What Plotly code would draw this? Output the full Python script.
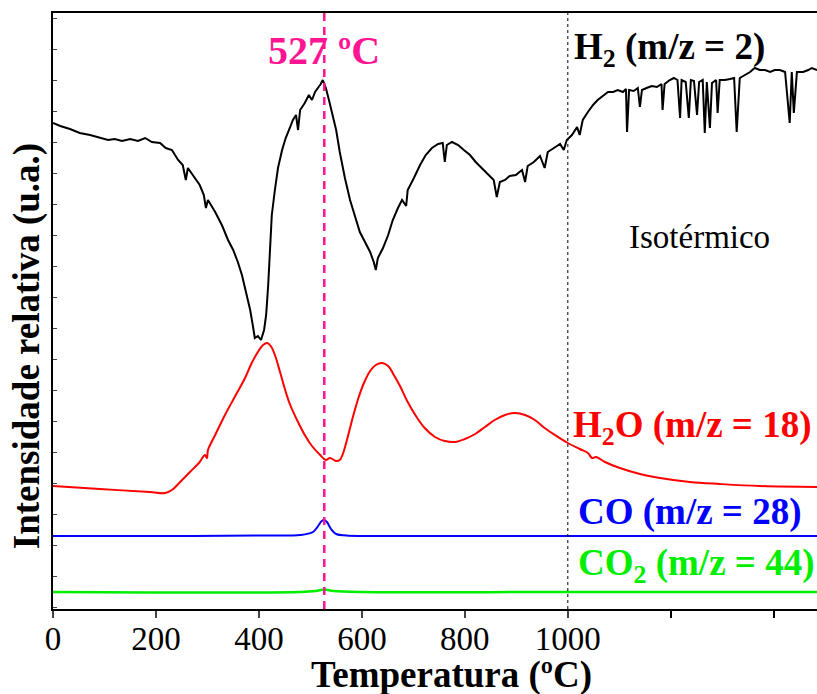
import plotly.graph_objects as go

# ---------------- data ----------------
h2_temp = [0, 14, 33, 52, 72, 91, 107, 120, 134, 150, 165, 179, 192, 208, 219, 231, 243, 252, 258, 262,
           276, 285, 293, 297, 301, 315, 328, 340, 350, 359, 367, 375, 383, 388, 392, 398, 404, 410, 414, 418,
           421, 425, 431, 437, 445, 452, 460, 466, 472, 476, 480, 489, 497, 503, 509, 515, 520, 524, 530, 536,
           542, 550, 557, 567, 577, 587, 596, 606, 616, 623, 627, 631, 641, 651, 660, 670, 678, 686, 689, 701,
           713, 724, 736, 748, 757, 761, 765, 775, 787, 798, 810, 821, 833, 845, 856, 862, 868, 878, 887, 899,
           911, 917, 922, 934, 946, 955, 961, 973, 985, 992, 998, 1008, 1018, 1023, 1029, 1039, 1049, 1058, 1068, 1078,
           1088, 1097, 1107, 1113, 1115, 1119, 1128, 1136, 1140, 1144, 1153, 1163, 1173, 1182, 1184, 1188, 1198, 1206, 1213, 1218,
           1221, 1229, 1235, 1239, 1245, 1251, 1255, 1262, 1266, 1270, 1276, 1280, 1288, 1291, 1295, 1305, 1315, 1323, 1328, 1334,
           1344, 1354, 1363, 1373, 1383, 1393, 1402, 1412, 1422, 1431, 1435, 1439, 1445, 1457, 1467, 1474, 1484]
h2_val = [486, 483, 480, 476, 474, 471, 469, 470, 468, 470, 468, 471, 467, 466, 461, 459, 449, 444, 429, 441,
          431, 424, 414, 401, 409, 397, 384, 369, 359, 347, 334, 317, 299, 284, 271, 273, 269, 279, 294, 324,
          359, 394, 419, 441, 459, 471, 481, 489, 494, 479, 499, 506, 514, 509, 517, 521, 525, 529, 521, 509,
          497, 479, 457, 431, 409, 391, 377, 367, 357, 347, 339, 351, 361, 374, 389, 401, 409, 403, 419, 431,
          444, 454, 461, 465, 466, 447, 464, 467, 464, 459, 454, 447, 441, 434, 429, 412, 427, 429, 433, 434,
          439, 427, 443, 447, 453, 441, 457, 461, 465, 459, 469, 474, 482, 474, 489, 497, 504, 509, 513, 517,
          517, 519, 517, 520, 477, 519, 518, 521, 502, 519, 521, 523, 522, 525, 499, 525, 529, 531, 529, 491,
          529, 527, 491, 529, 528, 494, 527, 529, 476, 527, 481, 526, 529, 496, 529, 529, 530, 531, 477, 531,
          534, 537, 541, 539, 539, 537, 539, 539, 537, 486, 537, 496, 537, 537, 539, 541, 539]

h2o_temp = [0, 91, 188, 218, 231, 247, 266, 285, 295, 299, 301, 315, 334, 353, 373, 386, 398, 408, 416, 423,
            431, 441, 451, 460, 474, 489, 503, 519, 530, 538, 550, 557, 563, 571, 581, 592, 604, 616, 627, 639,
            651, 662, 674, 689, 705, 722, 742, 761, 781, 800, 820, 839, 858, 878, 897, 917, 936, 955, 975, 1000,
            1023, 1039, 1047, 1055, 1072, 1101, 1140, 1179, 1237, 1295, 1373, 1484]
h2o_val = [123, 120, 117, 116, 119, 127, 137, 147, 154, 151, 159, 174, 194, 212, 231, 246, 257, 264, 266, 263,
           254, 237, 219, 205, 189, 174, 163, 154, 149, 151, 148, 149, 155, 169, 189, 209, 226, 238, 244, 246,
           243, 234, 223, 207, 193, 181, 172, 168, 167, 170, 175, 182, 189, 194, 196, 194, 189, 181, 174, 166,
           160, 156, 151, 152, 147, 141, 135, 131, 127, 125, 123, 122]

co_temp = [0, 200, 400, 480, 505, 515, 522, 527, 532, 540, 550, 570, 700, 1000, 1484]
co_val = [73, 73, 73.5, 74, 77, 83, 88, 89, 87, 80, 75, 73.5, 73, 73, 73]

co2_temp = [0, 480, 510, 527, 545, 600, 1000, 1484]
co2_val = [17, 17, 18, 19.5, 18, 17, 17, 17]

x_tickvals = [0, 200, 400, 600, 800, 1000]
x_ticktext = ["0", "200", "400", "600", "800", "1000"]
x_minor_tickvals = [1200, 1400]

peak_temp = 527
iso_temp = 1000

FONT = "Liberation Serif, Times New Roman, serif"
PINK = "#FF1493"

fig = go.Figure()
fig.add_trace(go.Scatter(x=h2_temp, y=h2_val, mode="lines", line=dict(color="black", width=2)))
fig.add_trace(go.Scatter(x=h2o_temp, y=h2o_val, mode="lines", line=dict(color="#FF0000", width=2), line_shape="spline"))
fig.add_trace(go.Scatter(x=co_temp, y=co_val, mode="lines", line=dict(color="#0000FF", width=2), line_shape="spline"))
fig.add_trace(go.Scatter(x=co2_temp, y=co2_val, mode="lines", line=dict(color="#00EE00", width=2.5), line_shape="spline"))

fig.add_shape(type="line", x0=peak_temp, x1=peak_temp, y0=0, y1=1, yref="paper", xref="x",
              line=dict(color=PINK, width=2.5, dash="8px,6px"))
fig.add_shape(type="line", x0=iso_temp, x1=iso_temp, y0=0, y1=1, yref="paper", xref="x",
              line=dict(color="black", width=1, dash="dot"))

ann = [
    dict(x=peak_temp, y=559, text="<b>527 ºC</b>", xanchor="center", yanchor="middle",
         font=dict(size=40, color=PINK)),
    dict(x=1008, y=560, text="<b>H<sub>2</sub> (m/z = 2)</b>", xanchor="left", yanchor="middle",
         font=dict(size=37, color="black")),
    dict(x=1255, y=372, text="Isotérmico", xanchor="center", yanchor="middle",
         font=dict(size=33, color="black")),
    dict(x=1006, y=182, text="<b>H<sub>2</sub>O (m/z = 18)</b>", xanchor="left", yanchor="middle",
         font=dict(size=37, color="#FF0000")),
    dict(x=1016, y=97, text="<b>CO (m/z = 28)</b>", xanchor="left", yanchor="middle",
         font=dict(size=37, color="#0000FF")),
    dict(x=1016, y=44, text="<b>CO<sub>2</sub> (m/z = 44)</b>", xanchor="left", yanchor="middle",
         font=dict(size=37, color="#00EE00")),
    dict(xref="paper", yref="paper", x=0.521, y=-0.111, text="<b>Temperatura (ºC)</b>",
         xanchor="center", yanchor="middle", showarrow=False, font=dict(size=37, color="black")),
    dict(xref="paper", yref="paper", x=-0.034, y=0.441, text="<b>Intensidade relativa (u.a.)</b>",
         textangle=-90, xanchor="center", yanchor="middle", showarrow=False, font=dict(size=37, color="black")),
]
for a in ann:
    a.setdefault("showarrow", False)
    a.setdefault("xref", "x")
    a.setdefault("yref", "y")
    fig.add_annotation(**a)

fig.update_layout(
    width=817, height=694,
    margin=dict(l=53, r=0, t=13, b=85),
    plot_bgcolor="white", paper_bgcolor="white",
    showlegend=False,
    font=dict(family=FONT, color="black"),
    xaxis=dict(range=[0, 1484], tickvals=x_tickvals, ticktext=x_ticktext, ticks="outside", ticklen=7,
               tickwidth=1.5, showline=True, linecolor="black", linewidth=2, mirror=True,
               ticklabelstandoff=-8,
               minor=dict(tickvals=x_minor_tickvals, ticks="outside", ticklen=7, tickwidth=1.5, tickcolor="black"),
               showgrid=False, zeroline=False, tickfont=dict(size=33, family=FONT, color="black")),
    yaxis=dict(range=[0, 596], showticklabels=False, ticks="inside", ticklen=4, tick0=2, dtick=31,
               showline=True, linecolor="black", linewidth=2, mirror=False,
               showgrid=False, zeroline=False),
)

fig.write_html("out.html", config={"displayModeBar": False},
               post_script="document.body.style.margin='0';document.body.style.overflow='hidden';")
